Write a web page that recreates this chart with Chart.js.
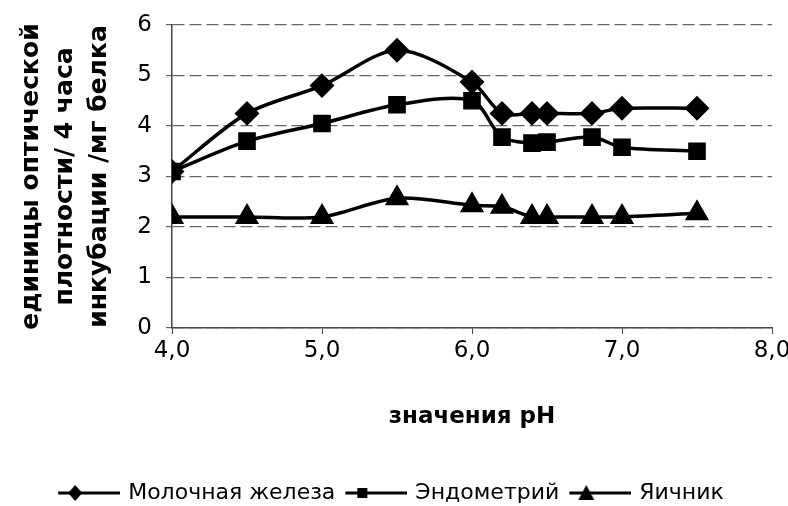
<!DOCTYPE html>
<html>
<head>
<meta charset="utf-8">
<script src="https://cdn.jsdelivr.net/npm/chart.js@4.4.0/dist/chart.umd.min.js"></script>
<style>
  html, body { margin: 0; padding: 0; background: #fff; }
  #wrap { width: 788px; height: 506px; }
</style>
</head>
<body>
<div id="wrap"><canvas id="phChart"></canvas></div>
<script>
// pH values and activity per tissue
const phValues = [4.0, 4.5, 5.0, 5.5, 6.0, 6.2, 6.4, 6.5, 6.8, 7.0, 7.5];
const mammary = [3.1, 4.25, 4.8, 5.5, 4.87, 4.25, 4.25, 4.25, 4.25, 4.35, 4.35];
const endometrium = [3.1, 3.7, 4.05, 4.42, 4.5, 3.78, 3.66, 3.68, 3.78, 3.58, 3.5];
const ovary = [2.2, 2.2, 2.2, 2.57, 2.43, 2.4, 2.2, 2.2, 2.2, 2.2, 2.27];
const xTickLabels = ['4,0', '5,0', '6,0', '7,0', '8,0'];
const seriesNames = ['Молочная железа', 'Эндометрий', 'Яичник'];

function toPoints(ys) {
    return phValues.map((x, i) => ({ x: x, y: ys[i] }));
}

// legend icon: line with marker on it (canvas wider than the legend box)
function legendIcon(style) {
    const c = document.createElement('canvas');
    c.width = 75; c.height = 22;
    const g = c.getContext('2d');
    g.strokeStyle = '#000'; g.fillStyle = '#000'; g.lineWidth = 3;
    g.beginPath(); g.moveTo(13, 11); g.lineTo(75, 11); g.stroke();
    const m = 30;
    g.beginPath();
    if (style === 'rectRot') {
        g.moveTo(m, 3); g.lineTo(m + 7, 11); g.lineTo(m, 19); g.lineTo(m - 7, 11);
    } else if (style === 'rect') {
        g.rect(m - 5, 6, 10, 10);
    } else {
        g.moveTo(m, 3); g.lineTo(m + 8, 18); g.lineTo(m - 8, 18);
    }
    g.closePath(); g.fill();
    return c;
}

const styles = ['rectRot', 'rect', 'triangle'];
const radii = [10, 10, 10.5];
const icons = styles.map(legendIcon);

const ctx = document.getElementById('phChart').getContext('2d');
const phChart = new Chart(ctx, {
    type: 'line',
    data: {
        datasets: [mammary, endometrium, ovary].map((ys, i) => ({
            label: seriesNames[i],
            data: toPoints(ys),
            borderColor: '#000',
            backgroundColor: '#000',
            borderWidth: 3.5,
            pointStyle: styles[i],
            pointRadius: radii[i],
            pointBackgroundColor: '#000',
            pointBorderColor: '#000',
            tension: 0.3,
            fill: false
        }))
    },
    options: {
        responsive: true,
        maintainAspectRatio: false,
        animation: false,
        layout: { padding: { top: 25, right: 16, left: 0, bottom: -8 } },
        plugins: {
            tooltip: { enabled: false },
            legend: {
                position: 'bottom',
                labels: {
                    usePointStyle: true,
                    pointStyleWidth: 69,
                    color: '#000',
                    font: { family: '"DejaVu Sans", sans-serif', size: 22 },
                    padding: 0,
                    generateLabels: (chart) => seriesNames.map((n, i) => ({
                        text: n,
                        pointStyle: icons[i],
                        fontColor: '#000',
                        datasetIndex: i,
                        hidden: false,
                        lineWidth: 0
                    }))
                }
            }
        },
        scales: {
            x: {
                type: 'linear',
                min: 4,
                max: 8,
                ticks: {
                    stepSize: 1,
                    color: '#000',
                    font: { family: '"DejaVu Sans", sans-serif', size: 23 },
                    padding: 3,
                    callback: (v) => xTickLabels[Math.round(v - 4)]
                },
                grid: { display: true, drawOnChartArea: false, drawTicks: true, tickLength: 6, color: '#444' },
                border: { display: true, color: '#444', width: 1.5, dash: [10, 4] },
                title: {
                    display: true,
                    text: 'значения pH',
                    color: '#000',
                    font: { family: '"DejaVu Sans", sans-serif', size: 23, weight: 'bold' },
                    padding: { top: 20, bottom: 51 }
                },
                afterFit: (scale) => {
                    scale.height = 154;
                    scale.paddingLeft = 0;
                    scale.paddingRight = 0;
                }
            },
            y: {
                min: 0,
                max: 6,
                ticks: {
                    stepSize: 1,
                    color: '#000',
                    font: { family: '"DejaVu Sans", sans-serif', size: 23 },
                    padding: 14
                },
                grid: { color: '#666', lineWidth: 1.2, tickLength: 6, drawTicks: true },
                border: { display: true, color: '#444', width: 1.5, dash: [12, 5] },
                title: {
                    display: true,
                    text: ['единицы оптической', 'плотности/ 4 часа', 'инкубации /мг белка'],
                    color: '#000',
                    font: { family: '"DejaVu Sans", sans-serif', size: 25, weight: 'bold', lineHeight: 1.36 },
                    padding: { top: 14, bottom: 0 }
                },
                afterFit: (scale) => {
                    scale.width = 172;
                    scale.paddingTop = 0;
                    scale.paddingBottom = 0;
                }
            }
        }
    }
});
</script>
</body>
</html>
